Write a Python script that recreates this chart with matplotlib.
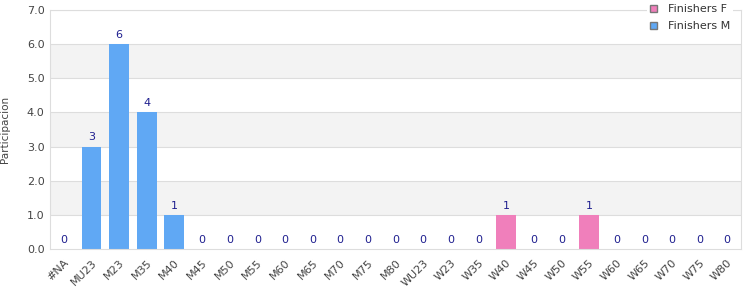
import matplotlib.pyplot as plt
from matplotlib.patches import Patch

categories = ["#NA", "MU23", "M23", "M35", "M40", "M45", "M50", "M55", "M60", "M65",
              "M70", "M75", "M80", "WU23", "W23", "W35", "W40", "W45", "W50", "W55",
              "W60", "W65", "W70", "W75", "W80"]
finishers_f = [0, 0, 0, 0, 0, 0, 0, 0, 0, 0, 0, 0, 0, 0, 0, 0, 1, 0, 0, 1, 0, 0, 0, 0, 0]
finishers_m = [0, 3, 6, 4, 1, 0, 0, 0, 0, 0, 0, 0, 0, 0, 0, 0, 0, 0, 0, 0, 0, 0, 0, 0, 0]

col_f = "#f07fbb"
col_m = "#60a8f4"
grid_col = "#dddddd"
text_col = "#444444"

fig = plt.figure(figsize=(7.5, 3), dpi=100)
ax = fig.add_axes([0.0667, 0.17, 0.9213, 0.797])

x = list(range(len(categories)))
ax.set_xlim(-0.5, len(categories) - 0.5)
ax.set_ylim(0, 7)

# alternating bands
for lo in (1, 3, 5):
    ax.axhspan(lo, lo + 1, color="#f3f3f3", zorder=0, lw=0)
for y in range(1, 8):
    ax.axhline(y, color=grid_col, lw=0.8, zorder=1)

ax.bar(x, finishers_f, width=0.72, color=col_f, zorder=2)
ax.bar(x, finishers_m, width=0.72, bottom=finishers_f, color=col_m, zorder=2)

for i in x:
    total = finishers_f[i] + finishers_m[i]
    ax.text(i, total + 0.12, str(total), ha="center", va="bottom",
            fontsize=8, color="#1f1f8f", zorder=3)

ax.set_xticks(x)
ax.set_xticklabels(categories, rotation=45, ha="right", rotation_mode="anchor",
                   fontsize=8, color=text_col)
ax.set_yticks(range(8))
ax.set_yticklabels([f"{v:.1f}" for v in range(8)], fontsize=8, color=text_col)
ax.tick_params(length=0, pad=4)
ax.tick_params(axis="x", pad=6)

for s in ax.spines.values():
    s.set_color(grid_col)
    s.set_linewidth(0.8)

fig.text(0.0, 0.57, "Participacion", rotation=90, ha="left", va="center",
         fontsize=7.5, color=text_col)

handles = [Patch(facecolor=col_f, edgecolor="#777777", label="Finishers F"),
           Patch(facecolor=col_m, edgecolor="#777777", label="Finishers M")]
leg = fig.legend(handles=handles, loc="upper right", bbox_to_anchor=(0.985, 1.015),
                 fontsize=8, frameon=True, facecolor="white", edgecolor="none",
                 framealpha=1, handlelength=0.6, handleheight=0.6,
                 handletextpad=1.0, labelspacing=0.6, borderpad=0.3)
for t in leg.get_texts():
    t.set_color("#333333")

fig.savefig("out.png", dpi=100)
